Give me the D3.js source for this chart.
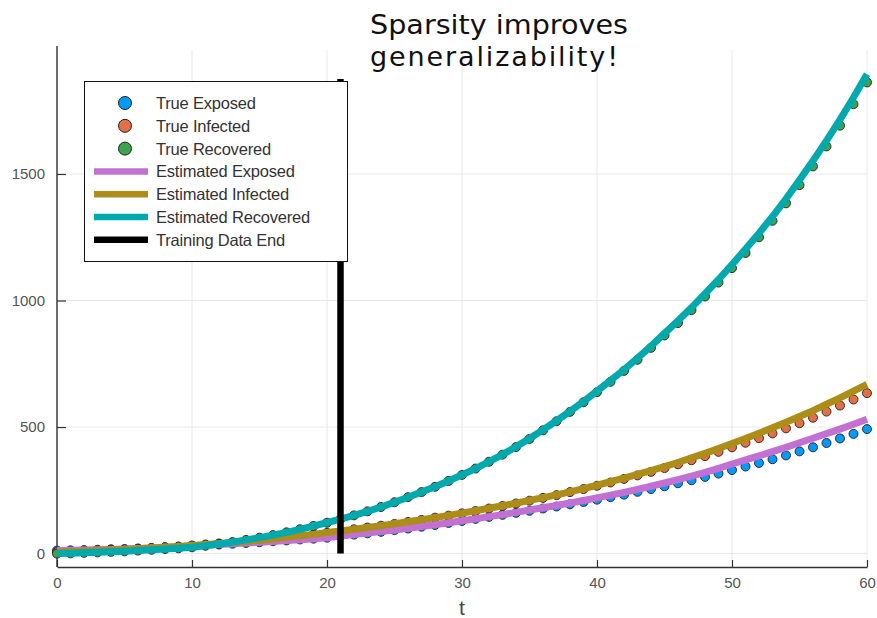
<!DOCTYPE html>
<html>
<head>
<meta charset="utf-8">
<script src="https://cdn.jsdelivr.net/npm/d3@7"></script>
<style>
  body { margin: 0; background: #fff; }
  svg { display: block; }
</style>
</head>
<body>
<svg id="chart" width="877" height="618"></svg>
<script>
// data
const days = [0,1,2,3,4,5,6,7,8,9,10,11,12,13,14,15,16,17,18,19,20,21,22,23,24,25,26,27,28,29,30,
  31,32,33,34,35,36,37,38,39,40,41,42,43,44,45,46,47,48,49,50,51,52,53,54,55,56,57,58,59,60];

const trueExposed = [12,13,14,15,17,18,20,22,25,27,30,33,36,39,42,45,49,52,56,59,63,69,75,80,86,93,99,106,113,121,129,
  137,145,153,161,169,178,186,195,204,213,223,233,244,255,266,278,290,303,316,330,344,358,373,388,404,420,437,455,473,492];
const trueInfected = [6,8,10,12,14,16,19,22,25,28,32,36,40,44,48,53,58,63,69,76,82,89,96,103,110,117,125,133,142,150,159,
  168,178,188,198,209,220,231,243,255,268,281,295,309,323,338,353,369,385,402,420,438,456,475,495,515,537,561,585,609,634];
const trueRecovered = [0,1,3,5,7,9,12,15,18,21,25,31,38,45,54,63,73,84,96,109,122,136,151,167,184,203,223,243,264,287,311,
  336,363,391,421,453,487,523,560,598,638,679,722,766,813,862,911,962,1016,1071,1128,1188,1250,1315,1384,1456,1530,1609,1691,1776,1862];

const estExposed = [12,13,14,15,16,18,20,22,24,27,30,33,36,39,42,45,48,52,55,59,63,69,75,81,87,93,100,107,114,122,130,
  138,146,154,163,172,181,190,200,210,220,231,242,254,266,279,292,306,321,337,354,370,386,403,420,438,456,474,492,511,531];
const estInfected = [6,8,10,12,14,16,19,22,25,28,32,36,40,44,48,53,58,64,70,76,83,89,96,103,110,118,126,134,142,151,160,
  169,179,189,199,210,221,232,244,257,270,284,298,313,328,344,360,378,396,415,435,455,476,497,519,542,565,590,615,642,669];
const estRecovered = [0,1,3,5,7,9,12,15,18,21,25,31,38,45,54,63,73,84,96,109,122,136,151,167,184,203,223,243,264,287,311,
  336,363,391,422,455,489,525,562,601,642,684,727,772,820,870,920,972,1027,1083,1142,1203,1266,1332,1402,1476,1552,1632,1715,1802,1894];

const trainX = [21, 21];
const trainY = [0, 1875];

const xTicks = [0, 10, 20, 30, 40, 50, 60];
const yTicks = [0, 500, 1000, 1500];

const pointSeries = [
  { name: 'True Exposed', values: trueExposed, color: '#009af9' },
  { name: 'True Infected', values: trueInfected, color: '#e26f46' },
  { name: 'True Recovered', values: trueRecovered, color: '#3da44d' }
];
const lineSeries = [
  { name: 'Estimated Exposed', values: estExposed, color: '#c271d2' },
  { name: 'Estimated Infected', values: estInfected, color: '#ac8d18' },
  { name: 'Estimated Recovered', values: estRecovered, color: '#00a9ad' }
];

const svg = d3.select('#chart');
const plot = { left: 57, right: 867, top: 50, bottom: 567 };

const x = d3.scaleLinear().domain([0, 60]).range([plot.left, plot.right]);
const y = d3.scaleLinear().domain([-53, 1990]).range([plot.bottom, plot.top]);

// grid
const grid = svg.append('g').attr('stroke', '#e8e8e8').attr('stroke-width', 1);
grid.selectAll('.gx').data(xTicks).join('line')
  .attr('x1', d => x(d)).attr('x2', d => x(d))
  .attr('y1', plot.bottom).attr('y2', plot.top);
grid.selectAll('.gy').data(yTicks).join('line')
  .attr('x1', plot.left).attr('x2', plot.right)
  .attr('y1', d => y(d)).attr('y2', d => y(d));

// axes
const xAxis = d3.axisBottom(x).tickValues(xTicks).tickFormat(d3.format('d'))
  .tickSizeInner(-7).tickSizeOuter(0).tickPadding(10);
const yAxis = d3.axisLeft(y).tickValues(yTicks).tickFormat(d3.format('d'))
  .tickSizeInner(-9).tickSizeOuter(0).tickPadding(12);

const gx = svg.append('g').attr('transform', `translate(0,${plot.bottom})`).call(xAxis);
const gy = svg.append('g').attr('transform', `translate(${plot.left},0)`).call(yAxis);
gy.select('.domain').attr('d', `M0,${plot.bottom}V${plot.top - 4}`);

[gx, gy].forEach(g => {
  g.select('.domain').attr('stroke', '#333').attr('stroke-width', 1.4);
  g.selectAll('.tick line').attr('stroke', '#333').attr('stroke-width', 1.2);
  g.selectAll('.tick text')
    .attr('fill', '#555')
    .style('font-family', '"Liberation Sans", Arial, sans-serif')
    .style('font-size', '15px');
});

svg.append('text')
  .attr('x', x(30)).attr('y', 615)
  .attr('text-anchor', 'middle')
  .attr('fill', '#444')
  .style('font-family', '"Liberation Sans", Arial, sans-serif')
  .style('font-size', '21px')
  .text('t');

// true data points
pointSeries.forEach(s => {
  svg.append('g').selectAll('circle')
    .data(days)
    .join('circle')
    .attr('cx', (d, i) => x(d))
    .attr('cy', (d, i) => y(s.values[i]))
    .attr('r', 4.5)
    .attr('fill', s.color)
    .attr('stroke', '#222')
    .attr('stroke-width', 0.9);
});

// estimated curves
const line = d3.line()
  .x((d, i) => x(days[i]))
  .y(d => y(d));

lineSeries.forEach(s => {
  svg.append('path')
    .datum(s.values)
    .attr('d', line)
    .attr('fill', 'none')
    .attr('stroke', s.color)
    .attr('stroke-width', 7);
});

// training data end
svg.append('path')
  .datum(trainY)
  .attr('d', d3.line().x((d, i) => x(trainX[i])).y(d => y(d)))
  .attr('stroke', '#000')
  .attr('stroke-width', 6.5);

// legend
const legend = svg.append('g');
legend.append('rect')
  .attr('x', 84.5).attr('y', 81.5).attr('width', 263).attr('height', 180)
  .attr('fill', '#fff').attr('stroke', '#111').attr('stroke-width', 1);

const entries = [
  ...pointSeries.map(s => ({ name: s.name, color: s.color, kind: 'point' })),
  ...lineSeries.map(s => ({ name: s.name, color: s.color, kind: 'line' })),
  { name: 'Training Data End', color: '#000', kind: 'line' }
];

const row = legend.selectAll('g.row').data(entries).join('g')
  .attr('transform', (d, i) => `translate(0,${103 + i * 22.8})`);

row.filter(d => d.kind === 'point').append('circle')
  .attr('cx', 125).attr('cy', 0).attr('r', 6.5)
  .attr('fill', d => d.color).attr('stroke', '#222').attr('stroke-width', 1);
row.filter(d => d.kind === 'line').append('line')
  .attr('x1', 94).attr('x2', 148).attr('y1', 0).attr('y2', 0)
  .attr('stroke', d => d.color).attr('stroke-width', 6.5);
row.append('text')
  .attr('x', 156).attr('y', 0).attr('dy', '0.36em')
  .attr('fill', '#333')
  .style('font-family', '"Liberation Sans", Arial, sans-serif')
  .style('font-size', '16.5px')
  .style('letter-spacing', '-0.2px')
  .text(d => d.name);

// annotation
const note = svg.append('g')
  .style('font-family', '"DejaVu Sans", sans-serif')
  .style('font-size', '27px')
  .attr('fill', '#111');
note.append('text').attr('x', 370).attr('y', 34)
  .attr('textLength', 258).attr('lengthAdjust', 'spacingAndGlyphs')
  .text('Sparsity improves');
note.append('text').attr('x', 370).attr('y', 66)
  .attr('textLength', 248).attr('lengthAdjust', 'spacing')
  .text('generalizability!');
</script>
</body>
</html>
